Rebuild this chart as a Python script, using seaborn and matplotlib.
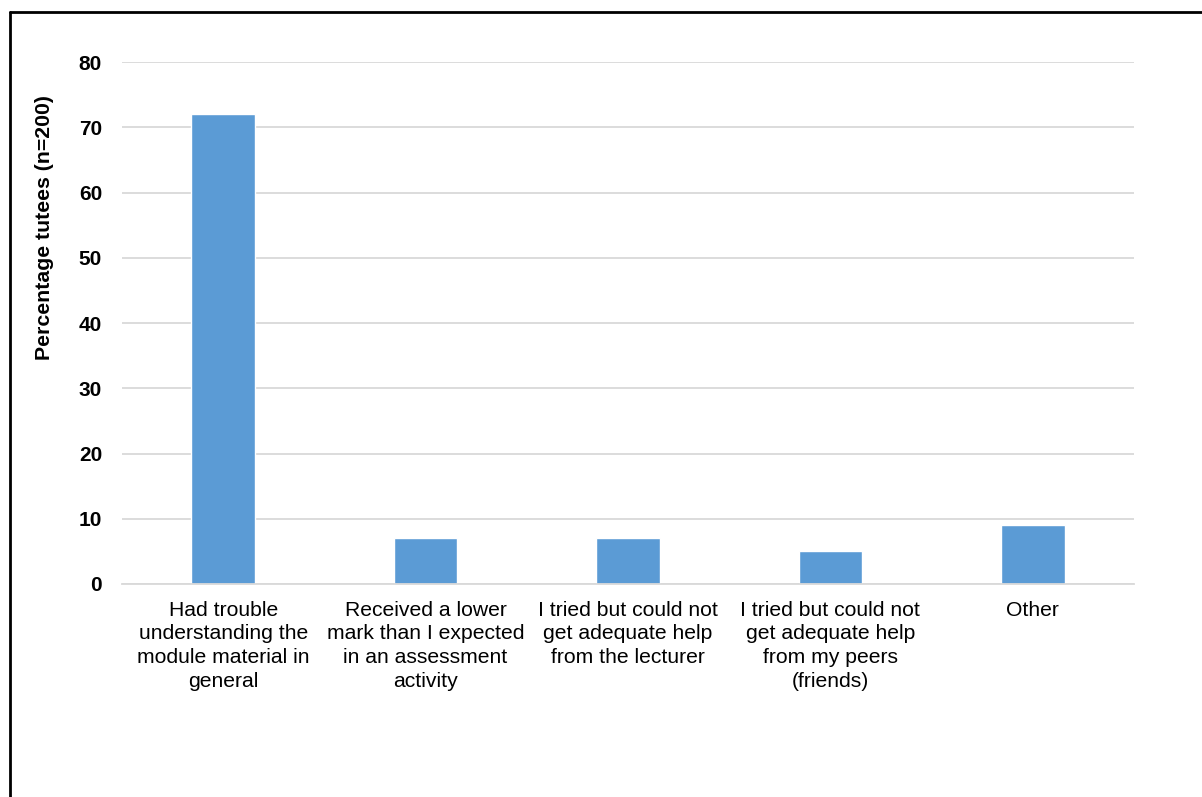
import matplotlib
matplotlib.use("Agg")
import matplotlib.pyplot as plt
import seaborn as sns
import pandas as pd
from matplotlib.lines import Line2D

categories = [
    "Had trouble\nunderstanding the\nmodule material in\ngeneral",
    "Received a lower\nmark than I expected\nin an assessment\nactivity",
    "I tried but could not\nget adequate help\nfrom the lecturer",
    "I tried but could not\nget adequate help\nfrom my peers\n(friends)",
    "Other",
]
percentages = [72, 7, 7, 5, 9]
y_ticks = [0, 10, 20, 30, 40, 50, 60, 70, 80]

df = pd.DataFrame({"reason": categories, "pct": percentages})

sns.set_style("white")
plt.rcParams["font.family"] = ["Liberation Sans", "DejaVu Sans"]
plt.rcParams["text.color"] = "black"
plt.rcParams["xtick.color"] = "black"
plt.rcParams["ytick.color"] = "black"

fig = plt.figure(figsize=(12.02, 7.97), dpi=100)
ax = fig.add_axes([0.1015, 0.2673, 0.8419, 0.6547])

sns.barplot(data=df, x="reason", y="pct", color="#5B9BD5", width=0.315,
            saturation=1, ax=ax)

ax.set_ylim(0, 80)
ax.set_yticks(y_ticks)
ax.set_yticklabels([str(t) for t in y_ticks], fontsize=15, fontweight="bold")
ax.set_xlim(-0.5, len(categories) - 0.5)
ax.grid(axis="y", color="#D9D9D9", linewidth=1.3)
ax.set_axisbelow(True)
for s in ["top", "right", "left"]:
    ax.spines[s].set_visible(False)
ax.spines["bottom"].set_color("#D9D9D9")
ax.spines["bottom"].set_linewidth(1.3)
ax.tick_params(axis="both", length=0)
ax.tick_params(axis="y", pad=14.4)
ax.tick_params(axis="x", pad=12)
plt.setp(ax.get_xticklabels(), fontsize=15.2, linespacing=1.31)
ax.set_xlabel("")
ax.set_ylabel("")

fig.text(0.0374, 1 - 228 / 797, "Percentage tutees (n=200)", rotation=90,
         ha="center", va="center", fontsize=15.3, fontweight="bold")

# outer frame (top and left edges only)
fig.add_artist(Line2D([0.0083, 1.0], [1 - 11.5 / 797] * 2, color="black",
                      linewidth=2, transform=fig.transFigure))
fig.add_artist(Line2D([0.0083, 0.0083], [0, 1 - 11.5 / 797], color="black",
                      linewidth=2, transform=fig.transFigure))

fig.savefig("out.png", dpi=100)
